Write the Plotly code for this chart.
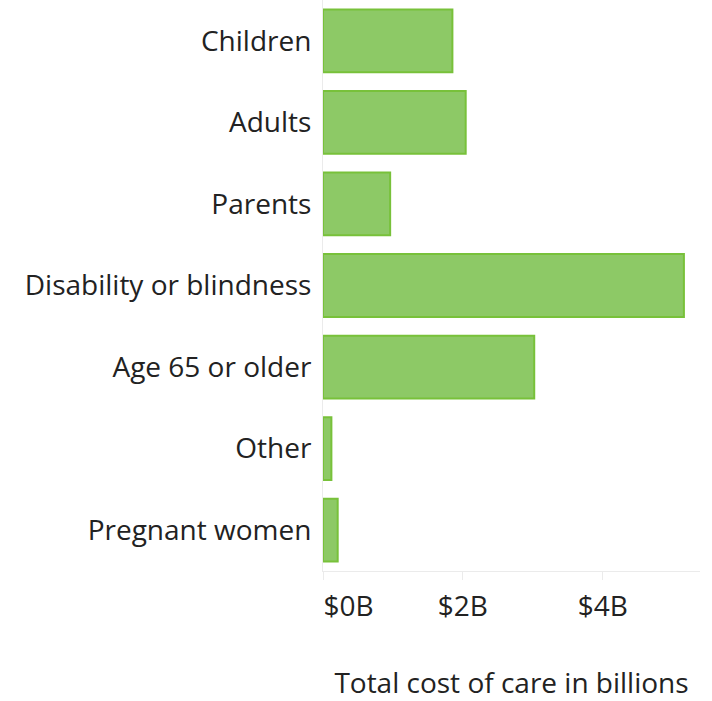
import plotly.graph_objects as go

categories = ["Children", "Adults", "Parents", "Disability or blindness",
              "Age 65 or older", "Other", "Pregnant women"]
costs_billions = [1.85, 2.04, 0.96, 5.16, 3.02, 0.12, 0.21]
tick_values = [0, 2, 4]
tick_labels = ["$0B", "$2B", "$4B"]

# the first label sits to the right of its tick in the reference
shown_ticks = ["\u00a0" * 7 + tick_labels[0]] + tick_labels[1:]

fig = go.Figure(go.Bar(
    y=categories,
    x=costs_billions,
    orientation="h",
    marker=dict(color="#8dc966", line=dict(color="#78c13a", width=2)),
))

fig.update_layout(
    width=712, height=701,
    margin=dict(l=323, r=12, t=0, b=130, autoexpand=False),
    plot_bgcolor="white", paper_bgcolor="white",
    bargap=0.23,
    font=dict(family="Open Sans", size=28, color="#222222"),
    showlegend=False,
)
fig.update_xaxes(
    range=[0, 5.39], tickvals=tick_values, ticktext=shown_ticks,
    showgrid=False, zeroline=False, automargin=False,
    showline=True, linecolor="#ebebeb", linewidth=1,
    ticks="outside", ticklen=8, tickcolor="#ebebeb",
    tickfont=dict(size=28),
    ticklabelstandoff=2,
    title=dict(text="Total cost of care in billions", standoff=50,
               font=dict(size=28, color="#222222")),
)
fig.update_yaxes(
    categoryorder="array", categoryarray=categories, autorange="reversed",
    showgrid=False, zeroline=False, automargin=False,
    showline=True, linecolor="#ebebeb", linewidth=1,
    ticks="", ticklabelstandoff=5, tickfont=dict(size=28),
)

fig.write_html("out.html", config={"displayModeBar": False},
               post_script="document.body.style.margin='0';")
